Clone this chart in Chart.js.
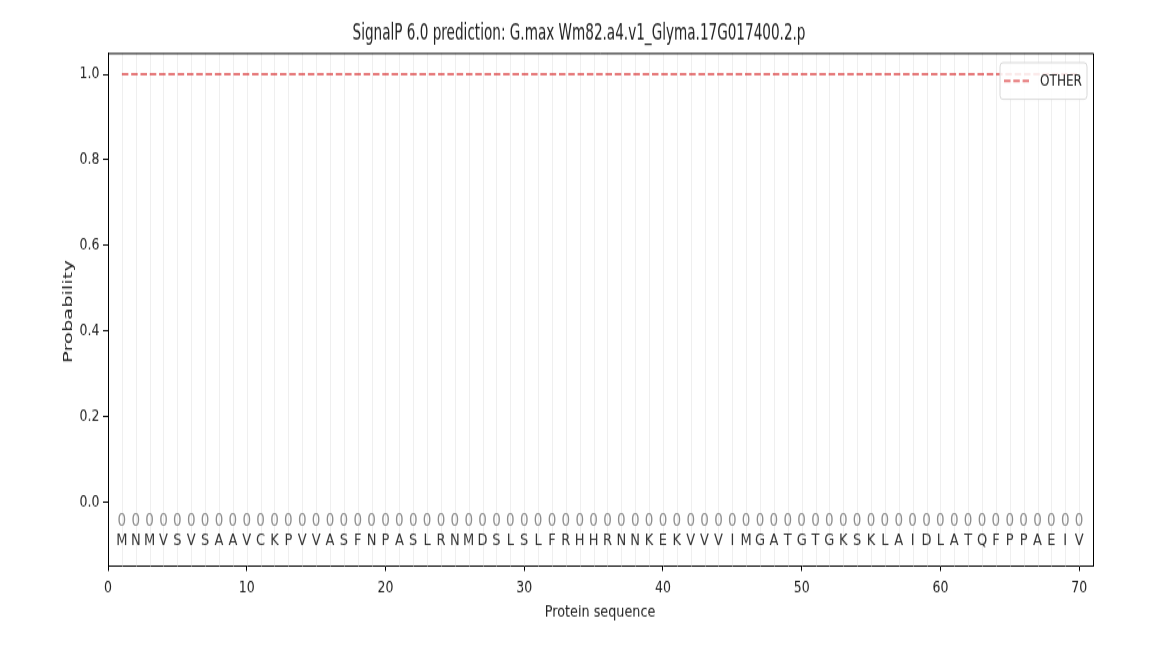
<!DOCTYPE html>
<html><head><meta charset="utf-8">
<script src="https://cdn.jsdelivr.net/npm/chart.js@4.4.0/dist/chart.umd.min.js"></script>
<style>
html,body{margin:0;padding:0;background:#fff}
canvas{display:block}
</style></head><body>
<canvas id="c" width="1158" height="512" style="width:1158px;height:655px"></canvas>
<script>
// ---- data ----
const titleText = "SignalP 6.0 prediction: G.max Wm82.a4.v1_Glyma.17G017400.2.p";
const xTitle = "Protein sequence";
const yTitle = "Probability";
const seriesLabel = "OTHER";
const sequence = "MNMVSVSAAVCKPVVASFNPASLRNMDSLSLFRHHRNNKEKVVVIMGATGTGKSKLAIDLATQFPPAEIV".split("");
const regionLabels = "0000000000000000000000000000000000000000000000000000000000000000000000".split("");
const positions = sequence.map((_, i) => i + 1);
const otherProb = [
  1.0,1.0,1.0,1.0,1.0,1.0,1.0,1.0,1.0,1.0,
  1.0,1.0,1.0,1.0,1.0,1.0,1.0,1.0,1.0,1.0,
  1.0,1.0,1.0,1.0,1.0,1.0,1.0,1.0,1.0,1.0,
  1.0,1.0,1.0,1.0,1.0,1.0,1.0,1.0,1.0,1.0,
  1.0,1.0,1.0,1.0,1.0,1.0,1.0,1.0,1.0,1.0,
  1.0,1.0,1.0,1.0,1.0,1.0,1.0,1.0,1.0,1.0,
  1.0,1.0,1.0,1.0,1.0,1.0,1.0,1.0,1.0,1.0
];
const xTicks = [0,10,20,30,40,50,60,70];
const yTicks = [0.0,0.2,0.4,0.6,0.8,1.0];

// ---- style ----
const FONT = "'DejaVu Sans', 'Liberation Sans', sans-serif";
const LINE_COLOR = 'rgba(214,39,40,0.62)';
const DASH = [6.5, 2.8];
const TXT = '#222';

const decor = {
  id: 'decor',
  beforeDatasetsDraw(chart) {
    const {ctx, chartArea: a, scales: {x}} = chart;
    ctx.save();
    ctx.strokeStyle = '#efefef';
    ctx.lineWidth = 1;
    positions.forEach(p => {
      const px = Math.round(x.getPixelForValue(p)) + 0.5;
      ctx.beginPath(); ctx.moveTo(px, a.top); ctx.lineTo(px, a.bottom); ctx.stroke();
    });
    ctx.restore();
  },
  afterDatasetsDraw(chart) {
    const {ctx, chartArea: a, scales: {x, y}} = chart;
    ctx.save();
    // sequence letters and region labels
    ctx.textAlign = 'center';
    ctx.textBaseline = 'middle';
    ctx.font = '13.5px ' + FONT;
    ctx.fillStyle = '#8c8c8c';
    const yz = y.getPixelForValue(-0.045);
    regionLabels.forEach((c, i) => ctx.fillText(c, x.getPixelForValue(positions[i]), yz));
    ctx.font = '13px ' + FONT;
    ctx.fillStyle = '#333';
    const yl = y.getPixelForValue(-0.09);
    sequence.forEach((c, i) => ctx.fillText(c, x.getPixelForValue(positions[i]), yl));
    // top and right spines
    ctx.strokeStyle = '#000';
    ctx.lineWidth = 1;
    ctx.beginPath();
    ctx.moveTo(a.left, a.top + 0.5); ctx.lineTo(a.right + 0.5, a.top + 0.5);
    ctx.lineTo(a.right + 0.5, a.bottom);
    ctx.stroke();
    // legend
    const lx = 1000, ly = 49, lw = 87, lh = 28.6, r = 3;
    ctx.beginPath();
    ctx.moveTo(lx + r, ly); ctx.lineTo(lx + lw - r, ly); ctx.quadraticCurveTo(lx + lw, ly, lx + lw, ly + r);
    ctx.lineTo(lx + lw, ly + lh - r); ctx.quadraticCurveTo(lx + lw, ly + lh, lx + lw - r, ly + lh);
    ctx.lineTo(lx + r, ly + lh); ctx.quadraticCurveTo(lx, ly + lh, lx, ly + lh - r);
    ctx.lineTo(lx, ly + r); ctx.quadraticCurveTo(lx, ly, lx + r, ly);
    ctx.closePath();
    ctx.fillStyle = 'rgba(255,255,255,0.85)';
    ctx.fill();
    ctx.strokeStyle = '#d8d8d8';
    ctx.stroke();
    const ds = chart.data.datasets[0];
    ctx.strokeStyle = ds.borderColor;
    ctx.lineWidth = ds.borderWidth;
    ctx.setLineDash(ds.borderDash);
    ctx.beginPath(); ctx.moveTo(lx + 4, ly + lh / 2); ctx.lineTo(lx + 29, ly + lh / 2); ctx.stroke();
    ctx.setLineDash([]);
    ctx.fillStyle = TXT;
    ctx.font = '13px ' + FONT;
    ctx.textAlign = 'left';
    const tw = ctx.measureText(ds.label).width;
    ctx.save();
    ctx.translate(lx + 40, ly + lh / 2 + 0.5);
    ctx.scale(42 / tw, 1);
    ctx.fillText(ds.label, 0, 0);
    ctx.restore();
    ctx.restore();
  },
  afterDraw(chart) {
    const {ctx} = chart;
    ctx.save();
    ctx.fillStyle = TXT;
    // title
    ctx.font = '17.5px ' + FONT;
    ctx.textAlign = 'center';
    ctx.textBaseline = 'alphabetic';
    let w = ctx.measureText(titleText).width;
    ctx.save();
    ctx.translate(579, 31.2);
    ctx.scale(453 / w, 1);
    ctx.fillText(titleText, 0, 0);
    ctx.restore();
    // x title
    ctx.font = '12.8px ' + FONT;
    ctx.fillText(xTitle, 600, 482);
    // y title
    ctx.font = '12.5px ' + FONT;
    ctx.textBaseline = 'middle';
    w = ctx.measureText(yTitle).width;
    ctx.save();
    ctx.translate(69, 243.5);
    ctx.rotate(-Math.PI / 2);
    ctx.scale(80.5 / w, 1);
    ctx.fillText(yTitle, 0, 0);
    ctx.restore();
    ctx.restore();
  }
};

new Chart(document.getElementById('c'), {
  type: 'line',
  data: {
    datasets: [{
      label: seriesLabel,
      data: positions.map((p, i) => ({x: p, y: otherProb[i]})),
      borderColor: LINE_COLOR,
      borderWidth: 2,
      borderDash: DASH,
      pointRadius: 0,
      fill: false,
      tension: 0
    }]
  },
  options: {
    responsive: false,
    animation: false,
    devicePixelRatio: 1,
    layout: {padding: {top: 41.4, right: 65, bottom: 0, left: 0}},
    plugins: {legend: {display: false}, title: {display: false}, tooltip: {enabled: false}},
    scales: {
      x: {
        type: 'linear', min: 0, max: 71,
        afterBuildTicks: s => { s.ticks = xTicks.map(v => ({value: v})); },
        afterFit: s => { s.height = 69.6; },
        grid: {drawOnChartArea: false, drawTicks: true, tickLength: 4, color: '#000', lineWidth: 1},
        border: {display: true, color: '#000', width: 1},
        ticks: {padding: 5.5, color: TXT, font: {family: FONT, size: 12.5}, maxRotation: 0, autoSkip: false,
          callback: v => String(v)}
      },
      y: {
        type: 'linear', min: -0.15, max: 1.05,
        afterBuildTicks: s => { s.ticks = yTicks.map(v => ({value: v})); },
        afterFit: s => { s.width = 108; },
        grid: {drawOnChartArea: false, drawTicks: true, tickLength: 5, color: '#000', lineWidth: 1},
        border: {display: true, color: '#000', width: 1},
        ticks: {padding: 3.5, color: TXT, font: {family: FONT, size: 12.5}, autoSkip: false,
          callback: v => Number(v).toFixed(1)}
      }
    }
  },
  plugins: [decor]
});
</script>
</body></html>
